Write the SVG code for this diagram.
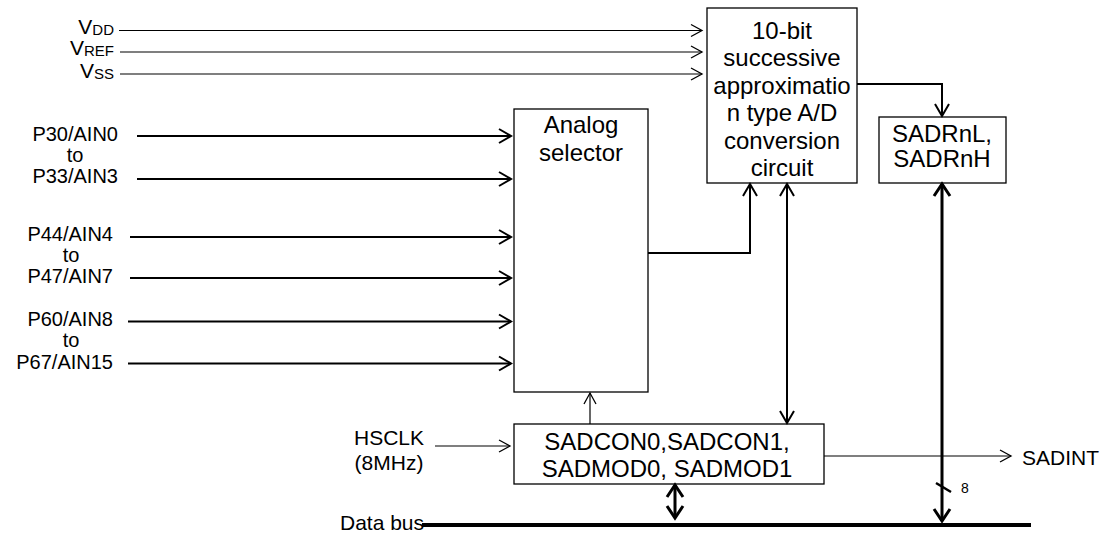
<svg xmlns="http://www.w3.org/2000/svg" width="1101" height="533" viewBox="0 0 1101 533">
<style>
text{font-family:"Liberation Sans",Arial,sans-serif;fill:#000}
.big{font-size:24px;text-anchor:middle}
.lbl{font-size:21px}
.port{font-size:20px}
.box{fill:#fff;stroke:#000;stroke-width:1.3}
.w1{fill:none;stroke:#000;stroke-width:1.2}
.w2{fill:none;stroke:#000;stroke-width:2}
.w3{fill:none;stroke:#000;stroke-width:3}
</style>
<defs>
<marker id="a1" markerUnits="userSpaceOnUse" viewBox="-14 -8 16 16" markerWidth="16" markerHeight="16" refX="0" refY="0" orient="auto-start-reverse" overflow="visible">
<path d="M-11,-6 L0,0 L-11,6" fill="none" stroke="#000" stroke-width="1.3"/>
</marker>
<marker id="a2" markerUnits="userSpaceOnUse" viewBox="-14 -8 16 16" markerWidth="16" markerHeight="16" refX="0" refY="0" orient="auto-start-reverse" overflow="visible">
<path d="M-12,-7 L0,0 L-12,7" fill="none" stroke="#000" stroke-width="2"/>
</marker>
<marker id="a3" markerUnits="userSpaceOnUse" viewBox="-14 -9 16 18" markerWidth="16" markerHeight="18" refX="0" refY="0" orient="auto-start-reverse" overflow="visible">
<path d="M-12,-8 L0,0 L-12,8" fill="none" stroke="#000" stroke-width="3"/>
</marker>
</defs>
<rect width="1101" height="533" fill="#fff"/>

<g id="power-labels" class="lbl">
<text x="114" y="34" text-anchor="end">V<tspan font-size="15" dy="1">DD</tspan></text>
<text x="114" y="55" text-anchor="end">V<tspan font-size="15" dy="1">REF</tspan></text>
<text x="114" y="78" text-anchor="end">V<tspan font-size="15" dy="1">SS</tspan></text>
</g>

<g id="port-labels" class="port">
<text x="118" y="141" text-anchor="end">P30/AIN0</text>
<text x="75" y="162" text-anchor="middle">to</text>
<text x="118" y="183" text-anchor="end">P33/AIN3</text>
<text x="113" y="241" text-anchor="end">P44/AIN4</text>
<text x="71" y="262" text-anchor="middle">to</text>
<text x="113" y="283" text-anchor="end">P47/AIN7</text>
<text x="113" y="326" text-anchor="end">P60/AIN8</text>
<text x="71" y="347" text-anchor="middle">to</text>
<text x="113" y="369" text-anchor="end">P67/AIN15</text>
</g>

<g id="hsclk" class="lbl">
<text x="389" y="445" text-anchor="middle">HSCLK</text>
<text x="389" y="470" text-anchor="middle">(8MHz)</text>
</g>

<g id="sadint" class="lbl">
<text x="1022" y="465">SADINT</text>
</g>

<g id="analog">
<rect class="box" x="514" y="109" width="134" height="283"/>
<text class="big" x="581" y="133">Analog</text>
<text class="big" x="581" y="161">selector</text>
</g>

<g id="adc">
<rect class="box" x="707" y="8" width="150" height="175"/>
<text class="big" x="782" y="38.5">10-bit</text>
<text class="big" x="782" y="66">successive</text>
<text class="big" x="782" y="93.5">approximatio</text>
<text class="big" x="782" y="121">n type A/D</text>
<text class="big" x="782" y="148.5">conversion</text>
<text class="big" x="782" y="176">circuit</text>
</g>

<g id="sadrn">
<rect class="box" x="879" y="117" width="127" height="66"/>
<text class="big" x="942" y="141.5">SADRnL,</text>
<text class="big" x="942" y="167">SADRnH</text>
</g>

<g id="sadcon">
<rect class="box" x="514" y="424" width="310" height="60"/>
<text class="big" x="667" y="450">SADCON0,SADCON1,</text>
<text class="big" x="667" y="477">SADMOD0, SADMOD1</text>
</g>

<g id="databus">
<text class="lbl" x="340" y="530">Data bus</text>
<line x1="422" y1="525" x2="1031" y2="525" stroke="#000" stroke-width="4"/>
</g>

<g id="connectors">
<line class="w1" x1="119" y1="30.5" x2="702" y2="30.5" marker-end="url(#a1)"/>
<line class="w1" x1="120" y1="52" x2="702" y2="52" marker-end="url(#a1)"/>
<line class="w1" x1="120" y1="74" x2="702" y2="74" marker-end="url(#a1)"/>

<line class="w2" x1="137" y1="136" x2="511" y2="136" marker-end="url(#a2)"/>
<line class="w2" x1="137" y1="179" x2="511" y2="179" marker-end="url(#a2)"/>
<line class="w2" x1="130" y1="237" x2="511" y2="237" marker-end="url(#a2)"/>
<line class="w2" x1="130" y1="278" x2="511" y2="278" marker-end="url(#a2)"/>
<line class="w2" x1="128" y1="321.5" x2="511" y2="321.5" marker-end="url(#a2)"/>
<line class="w2" x1="128" y1="363.5" x2="511" y2="363.5" marker-end="url(#a2)"/>

<polyline class="w2" points="648,253 750,253 750,184" marker-end="url(#a2)"/>
<polyline class="w2" points="857,84 942,84 942,116" marker-end="url(#a2)"/>
<line class="w2" x1="787" y1="184" x2="787" y2="423" marker-start="url(#a2)" marker-end="url(#a2)"/>
<line class="w3" x1="942" y1="184" x2="942" y2="521" marker-start="url(#a3)" marker-end="url(#a3)"/>
<line class="w3" x1="675" y1="485" x2="675" y2="518" marker-start="url(#a3)" marker-end="url(#a3)"/>

<line class="w1" x1="590" y1="424" x2="590" y2="393" marker-end="url(#a1)"/>
<line class="w1" x1="435" y1="446" x2="510" y2="446" marker-end="url(#a1)"/>
<line class="w1" x1="824" y1="456" x2="1011" y2="456" marker-end="url(#a1)"/>

<line x1="936" y1="483" x2="951" y2="492" stroke="#000" stroke-width="2.5"/>
<text x="961" y="493" font-size="14">8</text>
</g>
</svg>
